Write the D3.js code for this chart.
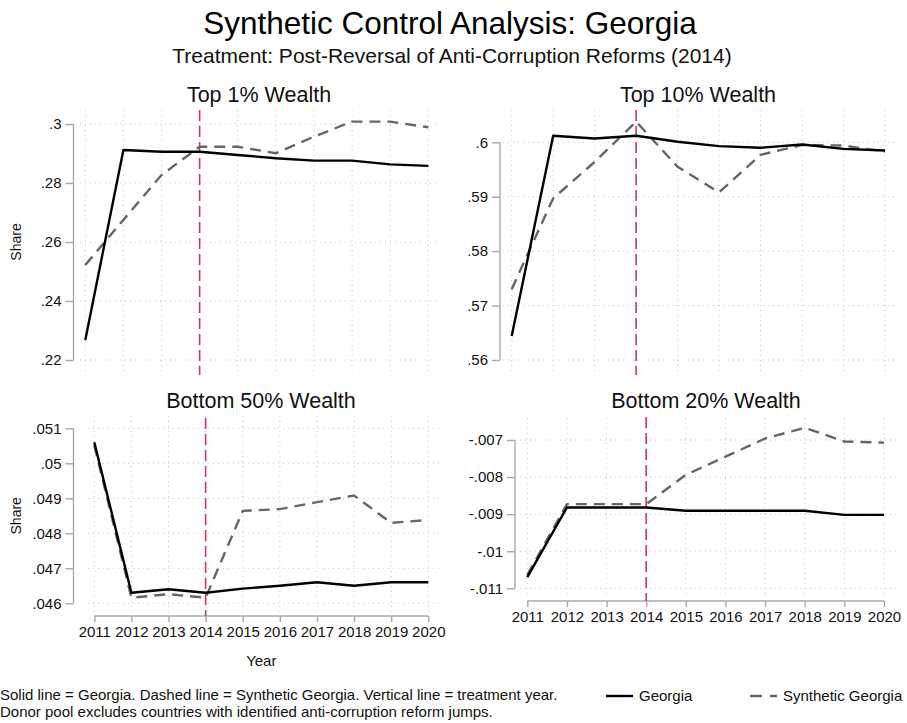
<!DOCTYPE html>
<html>
<head>
<meta charset="utf-8">
<script src="https://cdn.jsdelivr.net/npm/d3@7"></script>
<style>
  html, body { margin: 0; padding: 0; background: #fff; }
  svg { display: block; font-family: "Liberation Sans", Arial, Helvetica, sans-serif; }
</style>
</head>
<body>
<script>
// Years on the horizontal axis
const years = [2011, 2012, 2013, 2014, 2015, 2016, 2017, 2018, 2019, 2020];
const treatmentYear = 2014;

// Top 1% wealth share
const top1Georgia   = [0.2268, 0.2912, 0.2906, 0.2906, 0.2895, 0.2884, 0.2876, 0.2876, 0.2863, 0.2858];
const top1Synthetic = [0.2522, 0.2675, 0.2827, 0.2923, 0.2923, 0.2901, 0.2957, 0.3008, 0.3008, 0.2989];
const top1Ticks = [0.22, 0.24, 0.26, 0.28, 0.30];

// Top 10% wealth share
const top10Georgia   = [0.5644, 0.6012, 0.6007, 0.6012, 0.6001, 0.5993, 0.5990, 0.5996, 0.5988, 0.5985];
const top10Synthetic = [0.5730, 0.5897, 0.5964, 0.6038, 0.5955, 0.5908, 0.5977, 0.5995, 0.5994, 0.5983];
const top10Ticks = [0.56, 0.57, 0.58, 0.59, 0.60];

// Bottom 50% wealth share
const bot50Georgia   = [0.0506, 0.0463, 0.0464, 0.0463, 0.04642, 0.0465, 0.0466, 0.0465, 0.0466, 0.0466];
const bot50Synthetic = [0.05052, 0.04616, 0.04626, 0.04616, 0.04864, 0.04869, 0.04889, 0.04908, 0.04830, 0.04838];
const bot50Ticks = [0.046, 0.047, 0.048, 0.049, 0.050, 0.051];

// Bottom 20% wealth share
const bot20Georgia   = [-0.01070, -0.00882, -0.00882, -0.00882, -0.00891, -0.00891, -0.00891, -0.00891, -0.00902, -0.00902];
const bot20Synthetic = [-0.01064, -0.00873, -0.00873, -0.00873, -0.00794, -0.00745, -0.00696, -0.00667, -0.00704, -0.00707];
const bot20Ticks = [-0.011, -0.010, -0.009, -0.008, -0.007];

const W = 907, H = 723;
const svg = d3.select("body").append("svg").attr("width", W).attr("height", H);

// Stata-style tick labels: drop the leading zero (".3", "-.007")
const stataFmt = v => {
  let s = String(+v.toFixed(4));
  return s.replace(/^0\./, ".").replace(/^-0\./, "-.");
};

const panels = [
  { title: "Top 1% Wealth", geo: top1Georgia, syn: top1Synthetic, ticks: top1Ticks,
    xr: [85.3, 428.3], yr: [360, 124], box: [80, 110, 437, 375], axisX: 73.5,
    titleX: 259, titleY: 102, share: true, xAxis: false, vline: [110, 375] },
  { title: "Top 10% Wealth", geo: top10Georgia, syn: top10Synthetic, ticks: top10Ticks,
    xr: [511.7, 885], yr: [360, 142.3], box: [503, 110, 897, 375], axisX: 500,
    titleX: 698, titleY: 102, share: false, xAxis: false, vline: [110, 375] },
  { title: "Bottom 50% Wealth", geo: bot50Georgia, syn: bot50Synthetic, ticks: bot50Ticks,
    xr: [94.3, 428.3], yr: [603.3, 428.3], box: [88, 416, 440, 612], axisX: 73.5,
    titleX: 261, titleY: 408, share: true, xAxis: true, axisY: 616, yearTitle: true, vline: [418, 616] },
  { title: "Bottom 20% Wealth", geo: bot20Georgia, syn: bot20Synthetic, ticks: bot20Ticks,
    xr: [527.3, 884], yr: [588.3, 440], box: [520, 418, 897, 597], axisX: 515,
    titleX: 706, titleY: 408, share: false, xAxis: true, axisY: 601, yearTitle: false, vline: [417, 601] }
];

panels.forEach(p => {
  const x = d3.scaleLinear().domain([years[0], years[years.length - 1]]).range(p.xr);
  const y = d3.scaleLinear().domain([p.ticks[0], p.ticks[p.ticks.length - 1]]).range(p.yr);
  const g = svg.append("g");
  const [bx0, by0, bx1, by1] = p.box;

  // dotted grid
  g.append("g").selectAll("line").data(p.ticks).join("line")
    .attr("x1", bx0).attr("x2", bx1)
    .attr("y1", d => y(d)).attr("y2", d => y(d))
    .attr("stroke", "#c8c8c8").attr("stroke-width", 1).attr("stroke-dasharray", "1,4");
  g.append("g").selectAll("line").data(years).join("line")
    .attr("x1", d => x(d)).attr("x2", d => x(d))
    .attr("y1", by0).attr("y2", by1)
    .attr("stroke", "#c8c8c8").attr("stroke-width", 1).attr("stroke-dasharray", "1,4");

  // y axis
  const yAxis = d3.axisLeft(y).tickValues(p.ticks).tickFormat(stataFmt).tickSize(8).tickPadding(4);
  const ya = g.append("g").attr("transform", `translate(${p.axisX},0)`).call(yAxis);
  ya.select(".domain").attr("stroke", "#a8a8a8").attr("stroke-width", 1.4)
    .attr("d", `M0,${y(p.ticks[p.ticks.length - 1])}V${y(p.ticks[0])}`);
  ya.selectAll(".tick line").attr("stroke", "#a8a8a8").attr("stroke-width", 1.4);
  ya.selectAll(".tick text").attr("font-size", 15).attr("fill", "#111")
    .attr("font-family", "'Liberation Sans', Arial, sans-serif");

  // x axis (bottom row only)
  if (p.xAxis) {
    const xAxis = d3.axisBottom(x).tickValues(years).tickFormat(d3.format("d")).tickSize(6).tickPadding(4);
    const xa = g.append("g").attr("transform", `translate(0,${p.axisY})`).call(xAxis);
    xa.select(".domain").attr("stroke", "#a8a8a8").attr("stroke-width", 1.4)
      .attr("d", `M${x(years[0])},0H${x(years[years.length - 1])}`);
    xa.selectAll(".tick line").attr("stroke", "#a8a8a8").attr("stroke-width", 1.4);
    xa.selectAll(".tick text").attr("font-size", 15).attr("fill", "#111")
      .attr("font-family", "'Liberation Sans', Arial, sans-serif");
  }

  // treatment year marker
  g.append("line")
    .attr("x1", x(treatmentYear)).attr("x2", x(treatmentYear))
    .attr("y1", p.vline[0]).attr("y2", p.vline[1])
    .attr("stroke", "#d2326a").attr("stroke-width", 1.6).attr("stroke-dasharray", "11,5");

  const line = d3.line().x((d, i) => x(years[i])).y(d => y(d));

  // synthetic series (dashed gray)
  g.append("path").datum(p.syn).attr("d", line)
    .attr("fill", "none").attr("stroke", "#666").attr("stroke-width", 2.4)
    .attr("stroke-dasharray", "11,7");
  // actual series (solid black)
  g.append("path").datum(p.geo).attr("d", line)
    .attr("fill", "none").attr("stroke", "#000").attr("stroke-width", 2.4)
    .attr("stroke-linejoin", "round");

  // panel title
  g.append("text").attr("x", p.titleX).attr("y", p.titleY).attr("text-anchor", "middle")
    .attr("font-size", 21.5).attr("fill", "#111").text(p.title);

  if (p.share) {
    const cy = (y(p.ticks[0]) + y(p.ticks[p.ticks.length - 1])) / 2;
    g.append("text").attr("transform", `translate(21,${cy}) rotate(-90)`)
      .attr("text-anchor", "middle").attr("font-size", 14).attr("fill", "#111").text("Share");
  }
  if (p.yearTitle) {
    g.append("text").attr("x", (x(years[0]) + x(years[years.length - 1])) / 2).attr("y", 666)
      .attr("text-anchor", "middle").attr("font-size", 15).attr("fill", "#111").text("Year");
  }
});

// overall titles
svg.append("text").attr("x", 450).attr("y", 34).attr("text-anchor", "middle")
  .attr("font-size", 31.5).attr("fill", "#000").text("Synthetic Control Analysis: Georgia");
svg.append("text").attr("x", 452).attr("y", 63).attr("text-anchor", "middle")
  .attr("font-size", 21).attr("fill", "#111").text("Treatment: Post-Reversal of Anti-Corruption Reforms (2014)");

// note
const note = svg.append("text").attr("font-size", 15).attr("fill", "#111");
note.append("tspan").attr("x", 0).attr("y", 700)
  .text("Solid line = Georgia. Dashed line = Synthetic Georgia. Vertical line = treatment year.");
note.append("tspan").attr("x", 0).attr("y", 717)
  .text("Donor pool excludes countries with identified anti-corruption reform jumps.");

// legend
const legend = [
  { label: "Georgia", color: "#000", dash: null, x: 606 },
  { label: "Synthetic Georgia", color: "#666", dash: "12,8", x: 750 }
];
legend.forEach(l => {
  svg.append("line").attr("x1", l.x).attr("x2", l.x + 27).attr("y1", 696).attr("y2", 696)
    .attr("stroke", l.color).attr("stroke-width", 2.4)
    .attr("stroke-dasharray", l.dash);
  svg.append("text").attr("x", l.x + 33).attr("y", 701).attr("font-size", 15)
    .attr("fill", "#111").text(l.label);
});
</script>
</body>
</html>
